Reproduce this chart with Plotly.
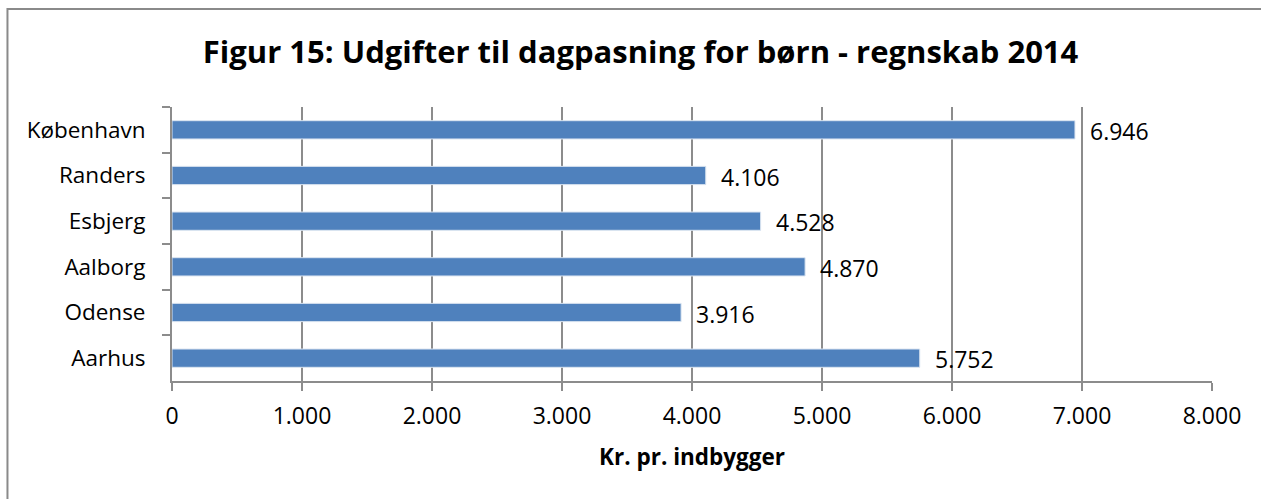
import plotly.graph_objects as go

# Data
kommuner = ["København", "Randers", "Esbjerg", "Aalborg", "Odense", "Aarhus"]
udgifter = [6946, 4106, 4528, 4870, 3916, 5752]
x_ticks = [0, 1000, 2000, 3000, 4000, 5000, 6000, 7000, 8000]

FONT = "Open Sans"
GRID = "#8c8c8c"

fig = go.Figure()

fig.add_trace(go.Bar(
    x=udgifter,
    y=kommuner,
    orientation="h",
    width=0.4,
    marker=dict(color="#4F81BD", line=dict(color="#dbe5f1", width=1)),
))

# data labels to the right of each bar
for k, v in zip(kommuner, udgifter):
    fig.add_annotation(
        x=v, y=k, text=f"{v:,}".replace(",", "."),
        xanchor="left", yanchor="middle", xshift=13, yshift=-1,
        showarrow=False,
        font=dict(family=FONT, size=23, color="black"),
    )

fig.update_layout(
    width=1261,
    height=499,
    margin=dict(l=172, r=49, t=107, b=118),
    paper_bgcolor="white",
    plot_bgcolor="white",
    separators=",.",
    showlegend=False,
    font=dict(family=FONT, color="black"),
    title=dict(
        text="<b>Figur 15: Udgifter til dagpasning for børn - regnskab 2014</b>",
        x=0.508, xanchor="center",
        y=0.895, yanchor="middle",
        font=dict(family=FONT, size=31, color="black"),
        automargin=False,
    ),
    xaxis=dict(
        range=[0, 8000],
        tickvals=x_ticks,
        tickformat=",d",
        showgrid=True,
        gridcolor=GRID,
        gridwidth=2,
        showline=True,
        linecolor=GRID,
        linewidth=2,
        ticks="outside",
        ticklen=8,
        tickwidth=2,
        tickcolor=GRID,
        zeroline=False,
        automargin=False,
        ticklabelstandoff=5,
        tickfont=dict(family=FONT, size=23),
        title=dict(text="<b>Kr. pr. indbygger</b>", font=dict(family=FONT, size=22.5), standoff=20),
    ),
    yaxis=dict(
        autorange="reversed",
        showline=True,
        linecolor=GRID,
        linewidth=2,
        ticks="outside",
        tickson="boundaries",
        ticklen=8,
        tickwidth=2,
        tickcolor=GRID,
        showgrid=False,
        automargin=False,
        ticklabelstandoff=20,
        tickfont=dict(family=FONT, size=22.5),
    ),
)

# Chart border (only top and left edges fall inside the picture)
fig.add_shape(
    type="rect", xref="paper", yref="paper",
    x0=-0.1582, x1=1.3, y0=-0.8, y1=1.358,
    line=dict(color="#8a8a8a", width=2),
    fillcolor="rgba(0,0,0,0)",
)

# drop the default page margin so the figure sits at the window origin
fig.write_html(
    "out.html",
    config={"displayModeBar": False},
    post_script="document.body.style.margin='0';",
)
